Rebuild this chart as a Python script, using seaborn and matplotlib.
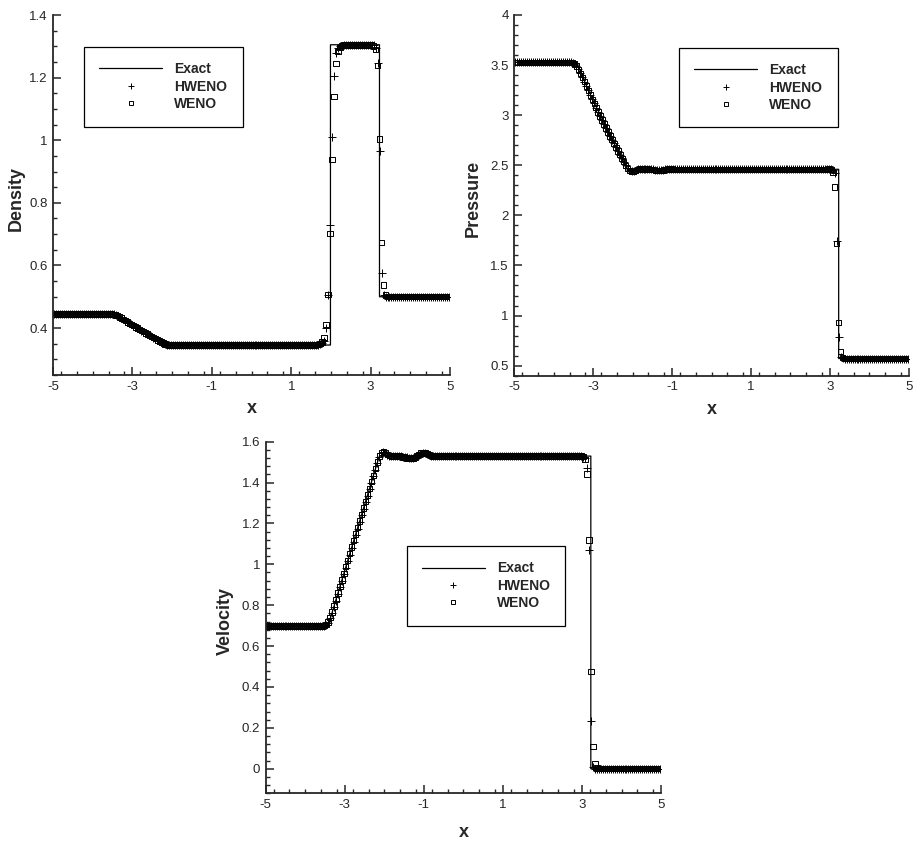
import numpy as np
import pandas as pd
import matplotlib
matplotlib.use("Agg")
import matplotlib.pyplot as plt
from matplotlib.lines import Line2D
from matplotlib.ticker import MultipleLocator, FuncFormatter
import seaborn as sns

# Lax shock tube, t = 1.3, 200 cells on [-5, 5]
x_cells = np.linspace(-4.975, 4.975, 200)

# exact solution (break points of the piecewise curve)
x_exact = [-5, -3.424, -3.2, -3.0, -2.8, -2.6, -2.4, -2.2, -2.125, 1.988, 1.988, 3.223, 3.223, 5]
rho_exact = [0.445, 0.445, 0.4261, 0.4098, 0.3950, 0.3787, 0.3640, 0.3497, 0.3457, 0.3457, 1.3050, 1.3050, 0.5, 0.5]
p_exact = [3.528, 3.528, 3.320, 3.143, 2.985, 2.815, 2.664, 2.517, 2.4596, 2.4596, 2.4596, 2.4596, 0.571, 0.571]
u_exact = [0.698, 0.698, 0.842, 0.970, 1.099, 1.227, 1.355, 1.483, 1.5294, 1.5294, 1.5294, 1.5294, 0.0, 0.0]

# density
rho_hweno = ([0.445] * 29 + [0.4448, 0.4440]
             + [0.4425, 0.4395, 0.4358, 0.4318, 0.4277, 0.4236, 0.4195, 0.4155, 0.4115, 0.4075,
                0.4036, 0.3997, 0.3958, 0.3919, 0.3881, 0.3843, 0.3805, 0.3767, 0.3730, 0.3693,
                0.3657, 0.3621, 0.3586, 0.3552, 0.3520, 0.3492, 0.3470]
             + [0.3460, 0.3456] + [0.3457] * 72
             + [0.3462, 0.3470, 0.3485, 0.3520]
             + [0.360, 0.400, 0.505, 0.730, 1.010, 1.205, 1.278, 1.295, 1.300, 1.302]
             + [1.304] * 15
             + [1.303, 1.295, 1.246, 0.966, 0.576, 0.505, 0.500]
             + [0.5] * 32)
rho_weno = ([0.445] * 29 + [0.4447, 0.4438]
            + [0.4422, 0.4392, 0.4355, 0.4316, 0.4275, 0.4234, 0.4194, 0.4154, 0.4114, 0.4074,
               0.4035, 0.3996, 0.3957, 0.3918, 0.3880, 0.3842, 0.3804, 0.3766, 0.3729, 0.3692,
               0.3656, 0.3620, 0.3585, 0.3552, 0.3521, 0.3494, 0.3473]
            + [0.3462, 0.3457] + [0.3457] * 72
            + [0.3465, 0.3480, 0.3505]
            + [0.355, 0.370, 0.411, 0.508, 0.703, 0.939, 1.139, 1.246, 1.283, 1.297, 1.302]
            + [1.304] * 15
            + [1.301, 1.290, 1.238, 1.004, 0.673, 0.538, 0.506, 0.501]
            + [0.5] * 31)

# pressure
p_hweno = ([3.528] * 29 + [3.525, 3.515]
           + [3.495, 3.460, 3.420, 3.378, 3.334, 3.290, 3.246, 3.203, 3.160, 3.118,
              3.076, 3.034, 2.993, 2.952, 2.912, 2.872, 2.833, 2.794, 2.756, 2.718,
              2.681, 2.644, 2.607, 2.571, 2.536, 2.502, 2.470]
           + [2.448, 2.438, 2.440, 2.450, 2.458, 2.462]
           + [2.462, 2.463, 2.463, 2.462, 2.460, 2.459, 2.458]
           + [2.455, 2.452, 2.450, 2.451, 2.454, 2.458, 2.460, 2.461, 2.461]
           + [2.460] * 79
           + [2.462, 2.462, 2.455, 2.420, 1.748, 0.783, 0.585, 0.572]
           + [0.571] * 33)
p_weno = ([3.528] * 29 + [3.524, 3.512]
          + [3.492, 3.457, 3.418, 3.376, 3.333, 3.289, 3.245, 3.202, 3.159, 3.117,
             3.075, 3.033, 2.992, 2.951, 2.911, 2.871, 2.832, 2.793, 2.755, 2.717,
             2.680, 2.643, 2.606, 2.570, 2.535, 2.500, 2.468]
          + [2.445, 2.435, 2.438, 2.448, 2.457, 2.462]
          + [2.463, 2.464, 2.463, 2.461, 2.459, 2.457, 2.455]
          + [2.450, 2.446, 2.445, 2.447, 2.452, 2.457, 2.460, 2.461, 2.461]
          + [2.460] * 79
          + [2.465, 2.455, 2.430, 2.283, 1.718, 0.930, 0.640, 0.580, 0.573]
          + [0.571] * 32)

# velocity
u_hweno = ([0.698] * 29 + [0.700, 0.705]
           + [0.715, 0.735, 0.762, 0.792, 0.823, 0.855, 0.887, 0.919, 0.951, 0.983,
              1.015, 1.047, 1.079, 1.111, 1.143, 1.175, 1.207, 1.239, 1.271, 1.303,
              1.335, 1.367, 1.399, 1.431, 1.463, 1.495, 1.525]
           + [1.545, 1.550, 1.545, 1.537, 1.532, 1.529]
           + [1.529, 1.530, 1.530, 1.529, 1.528, 1.527, 1.526]
           + [1.524, 1.522, 1.521, 1.522, 1.525, 1.530, 1.535, 1.540, 1.543, 1.543,
              1.540, 1.535, 1.531, 1.529, 1.528]
           + [1.529] * 74
           + [1.527, 1.520, 1.473, 1.068, 0.235, 0.010, 0.001]
           + [0.0] * 33)
u_weno = ([0.698] * 29 + [0.700, 0.706]
          + [0.718, 0.740, 0.767, 0.797, 0.828, 0.860, 0.892, 0.924, 0.956, 0.988,
             1.020, 1.052, 1.084, 1.116, 1.148, 1.180, 1.212, 1.244, 1.276, 1.308,
             1.340, 1.372, 1.404, 1.436, 1.468, 1.500, 1.530]
          + [1.548, 1.552, 1.547, 1.538, 1.532, 1.529]
          + [1.529, 1.530, 1.530, 1.529, 1.527, 1.525, 1.523]
          + [1.520, 1.518, 1.517, 1.519, 1.524, 1.531, 1.538, 1.544, 1.547, 1.547,
             1.543, 1.537, 1.532, 1.529, 1.527]
          + [1.529] * 74
          + [1.527, 1.513, 1.441, 1.119, 0.476, 0.108, 0.024, 0.004]
          + [0.0] * 32)

x_ticks = [-5, -3, -1, 1, 3, 5]

sns.set_style("ticks")
plt.rcParams["font.family"] = ["Liberation Sans", "DejaVu Sans"]
plt.rcParams["axes.unicode_minus"] = False

fig = plt.figure(figsize=(9.16, 8.44), dpi=100)

# (axes rect, exact, hweno, weno, ylabel, ylim, major, minor, legend anchor, ylabel x, xlabel y)
panels = [
    ([0.0579, 0.5557, 0.4334, 0.4265], rho_exact, rho_hweno, rho_weno, "Density",
     (0.25, 1.4), 0.2, 0.05, (0.078, 0.911), -0.072, -0.070),
    ([0.5615, 0.5549, 0.4306, 0.4274], p_exact, p_hweno, p_weno, "Pressure",
     (0.4, 4.0), 0.5, 0.1, (0.418, 0.909), -0.082, -0.070),
    ([0.2901, 0.0601, 0.4316, 0.4166], u_exact, u_hweno, u_weno, "Velocity",
     (-0.12, 1.6), 0.2, 0.04, (0.357, 0.703), -0.080, -0.088),
]

fmt = FuncFormatter(lambda v, p: f"{v:g}")

for rect, ex, hw, we, lab, ylim, major, minor, anchor, ylx, xly in panels:
    ax = fig.add_axes(rect)
    df_ex = pd.DataFrame({"x": x_exact, "y": ex})
    df_num = pd.DataFrame({"x": x_cells, "hweno": hw, "weno": we})

    sns.lineplot(data=df_ex, x="x", y="y", ax=ax, color="black", linewidth=0.9,
                 estimator=None, sort=False)
    sns.scatterplot(data=df_num, x="x", y="hweno", ax=ax, marker="+", s=26,
                    color="black", linewidth=0.7)
    sns.scatterplot(data=df_num, x="x", y="weno", ax=ax, marker="s", s=15,
                    facecolor="none", edgecolor="black", linewidth=0.7)

    ax.set_xlim(-5, 5)
    ax.set_xticks(x_ticks)
    ax.xaxis.set_minor_locator(MultipleLocator(0.4))
    ax.yaxis.set_major_locator(MultipleLocator(major))
    ax.yaxis.set_minor_locator(MultipleLocator(minor))
    ax.xaxis.set_major_formatter(fmt)
    ax.yaxis.set_major_formatter(fmt)
    ax.set_ylim(*ylim)
    ax.tick_params(which="major", direction="in", length=6, width=1.1, labelsize=9.5, pad=4)
    ax.tick_params(which="minor", direction="in", length=3, width=1.0)
    sns.despine(ax=ax)
    for s in ["left", "bottom"]:
        ax.spines[s].set_linewidth(1.3)

    ax.set_xlabel("x", fontsize=13, fontweight="bold")
    ax.set_ylabel(lab, fontsize=13, fontweight="bold")
    ax.xaxis.set_label_coords(0.5, xly)
    ax.yaxis.set_label_coords(ylx, 0.49)

    handles = [
        Line2D([], [], color="black", linewidth=0.9),
        Line2D([], [], color="black", marker="+", linestyle="none", markersize=4.5, markeredgewidth=0.7),
        Line2D([], [], color="black", marker="s", linestyle="none", markersize=3.3,
               markerfacecolor="none", markeredgewidth=0.7),
    ]
    leg = ax.legend(handles, ["Exact", "HWENO", "WENO"], loc="upper left",
                    bbox_to_anchor=anchor, prop={"weight": "bold", "size": 10},
                    frameon=True, fancybox=False, framealpha=1, edgecolor="black",
                    borderpad=1.1, labelspacing=0.25, handlelength=4.5,
                    handletextpad=0.9, borderaxespad=0)
    leg.get_frame().set_linewidth(0.9)

fig.savefig("out.png", dpi=100)
